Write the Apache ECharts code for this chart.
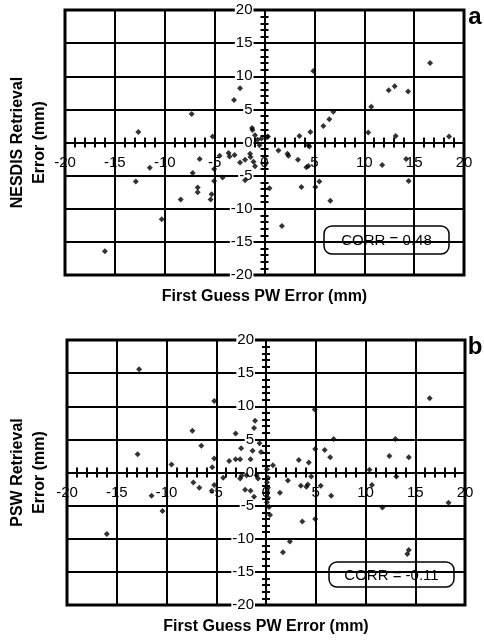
<!DOCTYPE html>
<html>
<head>
<meta charset="utf-8">
<script src="https://cdn.jsdelivr.net/npm/echarts@6/dist/echarts.min.js"></script>
<style>
  html, body { margin: 0; padding: 0; background: #fff; }
  #chart { width: 484px; height: 641px; }
</style>
</head>
<body>
<div id="chart"></div>
<script>
// panel a: first guess PW error vs NESDIS retrieval error (mm)
const nesdisPoints = [
  [-2.45, 8.2], [-3.06, 6.4], [-7.3, 4.3], [-12.65, 1.6], [-5.2, 0.9],
  [-1.2, 1.9], [-0.95, 1.1], [-0.7, 0.4], [-0.5, -0.4], [-1.25, 2.2], [0.25, 0.8],
  [-3.6, -1.6], [-3.5, -2.1], [-3.0, -1.9], [-4.5, -2.0], [-6.5, -2.5],
  [-2.45, -3.0], [-1.95, -2.6], [-1.45, -1.7], [-1.4, -2.2], [-1.1, -2.9],
  [-0.95, -3.6], [-1.95, -5.7], [-11.5, -3.8], [-7.2, -4.6], [-5.05, -4.0],
  [-4.2, -5.3], [-5.05, -5.8], [-12.9, -5.9], [-6.7, -6.8], [-6.7, -7.5],
  [-5.3, -7.8], [-5.4, -8.6], [-8.4, -8.6], [-10.3, -11.6], [-16.0, -16.4],
  [16.6, 12.0], [4.9, 10.8], [12.45, 7.9], [13.05, 8.5], [14.4, 7.7],
  [10.7, 5.4], [6.9, 4.65], [6.5, 3.5], [5.9, 2.5], [4.6, 1.6], [3.5, 1.0],
  [10.4, 1.5], [13.15, 1.0], [18.5, 0.9], [4.4, -0.4], [4.5, -0.6],
  [0.35, 0.9], [-0.3, 0.6], [1.4, -1.2], [2.3, -1.7], [2.4, -2.0],
  [3.35, -2.6], [4.2, -3.75], [4.4, -3.55], [11.8, -3.4], [14.2, -2.5],
  [14.45, -5.8], [3.7, -6.7], [5.1, -6.7], [5.5, -5.9], [6.6, -8.8],
  [0.5, -6.9], [1.75, -12.6]
];
// panel b: first guess PW error vs PSW retrieval error (mm)
const pswPoints = [
  [-12.75, 15.6], [-5.2, 10.8], [-7.4, 6.3], [-6.5, 4.05], [-12.9, 2.75],
  [-9.5, 1.2], [-5.2, 2.1], [-5.4, 0.8], [-3.05, 5.9], [-1.1, 7.8],
  [-1.2, 6.7], [-2.5, 3.65], [-1.35, 3.3], [-0.65, 4.4], [-3.7, 1.75],
  [-3.05, 2.0], [-2.6, 2.0], [-1.55, 2.0], [-4.3, -0.8], [-2.6, -0.9],
  [-2.45, -0.5], [-1.95, -0.4], [-0.95, -0.4], [-0.8, -0.9], [-7.3, -1.5],
  [-6.7, -2.3], [-5.2, -1.9], [-5.45, -2.75], [-11.5, -3.5], [-2.1, -2.6],
  [-1.55, -2.75], [-1.2, -3.65], [-10.4, -5.8], [-16.0, -9.3], [-0.5, 3.1],
  [0.1, 0.5], [0.2, -0.8], [0.1, -1.5], [0.2, -2.3], [0.1, -3.0],
  [0.2, -3.8], [0.1, -4.5], [0.3, -5.2], [0.4, -6.4],
  [16.45, 11.2], [4.9, 9.5], [6.8, 5.05], [13.0, 5.05], [4.95, 3.55],
  [5.9, 3.4], [6.45, 2.3], [12.4, 2.5], [14.35, 2.3], [3.3, 1.9],
  [4.3, 1.5], [0.7, 1.1], [10.4, 0.4], [4.55, -0.6], [13.1, -0.6],
  [2.2, -1.2], [3.5, -2.0], [4.05, -2.15], [4.2, -1.8], [5.5, -2.0],
  [10.65, -1.9], [1.4, -3.05], [6.55, -3.5], [11.7, -5.3], [18.35, -4.55],
  [3.65, -7.4], [4.95, -7.0], [2.4, -10.4], [1.7, -12.05], [14.35, -11.7],
  [14.2, -12.3]
];
const panelLetters = ['a', 'b'];
const yTitles = ['NESDIS Retrieval\nError (mm)', 'PSW Retrieval\nError (mm)'];
const xTitle = 'First Guess PW Error (mm)';
const corrTexts = ['CORR = 0.48', 'CORR = -0.11'];
const axisMin = -20, axisMax = 20, axisStep = 5;

const font = '"Liberation Sans", Arial, Helvetica, sans-serif';
const black = '#000';

const grids = [
  { left: 65, top: 10, width: 399, height: 265 },
  { left: 67, top: 340, width: 398, height: 265 }
];

// axes sit in the middle of the frame (value 0), pulled in with a negative offset
function mainAxis(g, gridIndex, isX) {
  return {
    type: 'value', gridIndex: gridIndex,
    min: axisMin, max: axisMax, interval: axisStep,
    position: isX ? 'bottom' : 'left',
    offset: isX ? -g.height / 2 : -g.width / 2,
    axisLine: { onZero: false, lineStyle: { color: black, width: 2 } },
    axisTick: { show: true, length: isX ? 5 : 4, lineStyle: { color: black, width: 2 } },
    minorTick: { show: true, splitNumber: 5, length: isX ? 5 : 4, lineStyle: { color: black, width: 2 } },
    splitLine: { show: true, lineStyle: { color: black, width: 2 } },
    axisLabel: {
      show: true, color: black, fontSize: 15, fontFamily: font,
      margin: isX ? 13 : 11,
      backgroundColor: isX ? 'transparent' : '#fff',
      padding: isX ? 0 : [0, 1, 0, 1]
    }
  };
}
// second copy of each axis only carries the inward half of the crossing ticks
function tickAxis(g, gridIndex, isX) {
  return {
    type: 'value', gridIndex: gridIndex,
    min: axisMin, max: axisMax, interval: axisStep,
    position: isX ? 'bottom' : 'left',
    offset: isX ? -g.height / 2 : -g.width / 2,
    axisLine: { show: false, onZero: false },
    axisTick: { show: true, inside: true, length: isX ? 5 : 4, lineStyle: { color: black, width: 2 } },
    minorTick: { show: true, splitNumber: 5, length: isX ? 5 : 4, lineStyle: { color: black, width: 2 } },
    splitLine: { show: false },
    axisLabel: { show: false }
  };
}

const xAxes = [], yAxes = [];
grids.forEach((g, i) => {
  xAxes.push(mainAxis(g, i, true), tickAxis(g, i, true));
  yAxes.push(mainAxis(g, i, false), tickAxis(g, i, false));
});

const graphics = [];
grids.forEach((g, i) => {
  const cy = g.top + g.height / 2;
  graphics.push({
    type: 'text', x: 29, y: cy, rotation: Math.PI / 2,
    style: {
      text: yTitles[i], font: 'bold 16px ' + font, fill: black,
      align: 'center', verticalAlign: 'middle', lineHeight: 22
    }
  });
  graphics.push({
    type: 'text', x: g.left + g.width / 2, y: g.top + g.height + 22,
    style: { text: xTitle, font: 'bold 16px ' + font, fill: black, align: 'center', verticalAlign: 'middle' }
  });
  graphics.push({
    type: 'text', x: 475, y: g.top + 7,
    style: { text: panelLetters[i], font: 'bold 24px ' + font, fill: black, align: 'center', verticalAlign: 'middle' }
  });
});
// correlation boxes
[[324, 226, 125, 28], [329, 562, 125, 25]].forEach((b, i) => {
  graphics.push({
    type: 'group', z: 100,
    children: [
      { type: 'rect', shape: { x: b[0], y: b[1], width: b[2], height: b[3], r: 8 },
        style: { fill: '#fff', stroke: black, lineWidth: 1.5 } },
      { type: 'text', x: b[0] + b[2] / 2, y: b[1] + b[3] / 2 + 1,
        style: { text: corrTexts[i], font: '15px ' + font, fill: black, align: 'center', verticalAlign: 'middle' } }
    ]
  });
});

const chart = echarts.init(document.getElementById('chart'), null, { renderer: 'canvas' });
chart.setOption({
  animation: false,
  backgroundColor: '#fff',
  grid: grids.map(g => Object.assign({ show: true, borderColor: black, borderWidth: 3, backgroundColor: 'transparent' }, g)),
  xAxis: xAxes,
  yAxis: yAxes,
  series: [
    { type: 'scatter', xAxisIndex: 0, yAxisIndex: 0, data: nesdisPoints,
      symbol: 'diamond', symbolSize: 6, itemStyle: { color: black }, z: 5 },
    { type: 'scatter', xAxisIndex: 2, yAxisIndex: 2, data: pswPoints,
      symbol: 'diamond', symbolSize: 6, itemStyle: { color: black }, z: 5 }
  ],
  graphic: graphics
});
</script>
</body>
</html>
